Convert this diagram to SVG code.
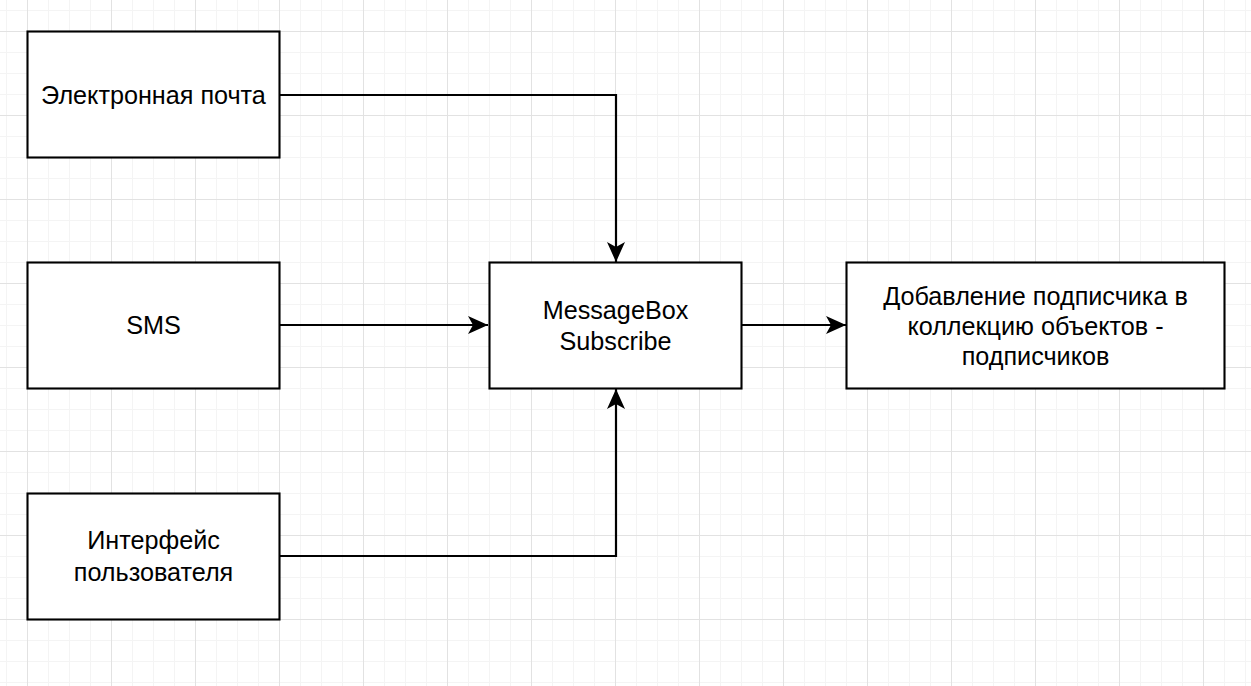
<svg xmlns="http://www.w3.org/2000/svg" width="1251" height="686" viewBox="0 0 1251 686">
<defs>
<pattern id="grid" patternUnits="userSpaceOnUse" x="27" y="31" width="84" height="84">
<rect x="0" y="0" width="84" height="84" fill="#ffffff"/>
<rect x="21" y="0" width="1" height="84" fill="#f4f4f4"/>
<rect x="42" y="0" width="1" height="84" fill="#f4f4f4"/>
<rect x="63" y="0" width="1" height="84" fill="#f4f4f4"/>
<rect x="0" y="21" width="84" height="1" fill="#f4f4f4"/>
<rect x="0" y="42" width="84" height="1" fill="#f4f4f4"/>
<rect x="0" y="63" width="84" height="1" fill="#f4f4f4"/>
<rect x="0" y="0" width="1" height="84" fill="#e2e2e2"/>
<rect x="0" y="0" width="84" height="1" fill="#e2e2e2"/>
</pattern>
<marker id="arrow" viewBox="0 0 21 18" refX="20" refY="9" markerWidth="21" markerHeight="18" markerUnits="userSpaceOnUse" orient="auto">
<path d="M0,0 L20,9 L0,18 L5,9 Z" fill="#000000"/>
</marker>
</defs>
<style>
.box{fill:#ffffff;stroke:#000000;stroke-width:2.1;}
.lbl{font-family:"Liberation Sans",Arial,sans-serif;font-size:25.2px;fill:#000000;text-anchor:middle;}
.edge{fill:none;stroke:#000000;stroke-width:2.2;marker-end:url(#arrow);}
</style>
<rect x="0" y="0" width="1251" height="686" fill="url(#grid)"/>
<g id="connectors">
<path class="edge" d="M280,95 L616,95 L616,262"/>
<path class="edge" d="M280,325 L488,325"/>
<path class="edge" d="M280,556 L616,556 L616,389"/>
<path class="edge" d="M741,325 L846,325"/>
</g>
<g id="node-email">
<rect class="box" x="27.5" y="31.5" width="252" height="126"/>
<text class="lbl" x="153.5" y="103.5">Электронная почта</text>
</g>
<g id="node-sms">
<rect class="box" x="27.5" y="262.5" width="252" height="126"/>
<text class="lbl" x="153.5" y="334">SMS</text>
</g>
<g id="node-ui">
<rect class="box" x="27.5" y="493.5" width="252" height="126"/>
<text class="lbl" x="153.5" y="549">Интерфейс</text>
<text class="lbl" x="153.5" y="581">пользователя</text>
</g>
<g id="node-subscribe">
<rect class="box" x="489.5" y="262.5" width="252" height="126"/>
<text class="lbl" x="615.5" y="318.5">MessageBox</text>
<text class="lbl" x="615.5" y="350">Subscribe</text>
</g>
<g id="node-add">
<rect class="box" x="846.5" y="262.5" width="378" height="126"/>
<text class="lbl" x="1035.5" y="304.5">Добавление подписчика в</text>
<text class="lbl" x="1035.5" y="335">коллекцию объектов -</text>
<text class="lbl" x="1035.5" y="365">подписчиков</text>
</g>
</svg>
